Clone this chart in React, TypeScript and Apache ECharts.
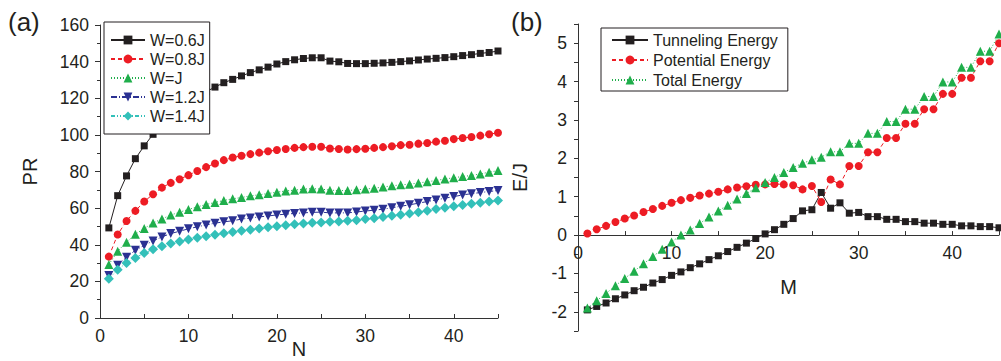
import React, { useEffect, useRef } from 'react';
import * as echarts from 'echarts';

// ---------- Panel (a): participation ratio PR vs N ----------
const N_VALUES = [1, 2, 3, 4, 5, 6, 7, 8, 9, 10, 11, 12, 13, 14, 15, 16, 17, 18, 19, 20, 21, 22, 23, 24, 25, 26, 27, 28, 29, 30, 31, 32, 33, 34, 35, 36, 37, 38, 39, 40, 41, 42, 43, 44, 45];

const PR_W06 = [49.2, 66.8, 77.6, 87, 94, 100.3, 105, 109.5, 113.5, 117, 120.5, 123.6, 126.1, 128.5, 130.3, 132.2, 134, 135.5, 137, 138.7, 140, 141, 141.7, 142.1, 142.1, 140.3, 139.9, 139, 138.9, 138.9, 139.1, 139.3, 139.6, 140, 140.4, 140.9, 141.4, 141.8, 142.2, 142.7, 143.3, 143.8, 144.5, 145, 145.8];
const PR_W08 = [33.5, 45.6, 53, 58.5, 63.6, 67.6, 71.2, 73.8, 75.8, 78, 80.3, 82.4, 84.4, 86.2, 87.6, 88.6, 89.5, 90.3, 91.1, 91.7, 92.3, 92.9, 93.3, 93.5, 93.5, 92.6, 92.3, 92, 92.2, 92.4, 92.9, 93.3, 93.8, 94.4, 94.6, 95.2, 95.6, 96.3, 96.8, 97.7, 98.3, 98.8, 99.6, 100.3, 101.2];
const PR_W10 = [29.2, 36.5, 41.4, 45.8, 48.9, 51.9, 54.1, 56.2, 57.8, 59.3, 60.7, 62, 63.1, 64.2, 65.1, 65.8, 66.7, 67.3, 68, 68.7, 69.4, 69.8, 70.4, 70.6, 70.4, 69.8, 69.6, 69.6, 70, 70.4, 70.9, 71.5, 72.2, 72.7, 73.1, 73.7, 74.4, 75.1, 75.9, 76.6, 77.3, 77.8, 78.7, 79.6, 80.5];
const PR_W12 = [23.2, 28.8, 33.2, 37, 39.7, 42.1, 44.3, 46.1, 47.4, 48.7, 49.8, 50.8, 51.8, 52.5, 53.1, 54, 54.6, 55.2, 55.7, 56.3, 56.7, 57.1, 57.4, 57.7, 57.8, 57.4, 57.4, 57.4, 57.9, 58.4, 58.9, 59.4, 60.2, 61, 61.8, 62.7, 63.6, 64.5, 65.4, 66.3, 67.2, 67.9, 68.5, 69.1, 69.6];
const PR_W14 = [21.4, 26.4, 30.1, 32.8, 35.5, 37.5, 39.2, 40.7, 41.8, 42.9, 43.8, 44.7, 45.4, 46.3, 47, 47.6, 48.2, 48.9, 49.5, 50.1, 50.7, 51.2, 51.6, 52, 52.2, 52.5, 52.7, 53.1, 53.4, 54, 54.5, 55.1, 55.8, 56.4, 57.1, 57.7, 58.6, 59.5, 60.2, 61, 61.7, 62.4, 63, 63.6, 64.1];

const LEGEND_A = ['W=0.6J', 'W=0.8J', 'W=J', 'W=1.2J', 'W=1.4J'];

// ---------- Panel (b): energies E/J vs M ----------
const M_VALUES = [1, 2, 3, 4, 5, 6, 7, 8, 9, 10, 11, 12, 13, 14, 15, 16, 17, 18, 19, 20, 21, 22, 23, 24, 25, 26, 27, 28, 29, 30, 31, 32, 33, 34, 35, 36, 37, 38, 39, 40, 41, 42, 43, 44, 45];

const E_TUNNELING = [-1.95, -1.86, -1.77, -1.66, -1.56, -1.45, -1.36, -1.25, -1.16, -1.05, -0.96, -0.85, -0.75, -0.64, -0.54, -0.43, -0.32, -0.21, -0.09, 0.03, 0.14, 0.28, 0.43, 0.63, 0.66, 1.11, 0.7, 0.84, 0.57, 0.59, 0.48, 0.48, 0.41, 0.41, 0.35, 0.35, 0.31, 0.31, 0.28, 0.28, 0.24, 0.24, 0.22, 0.22, 0.19];
const E_POTENTIAL = [0.04, 0.15, 0.24, 0.34, 0.43, 0.51, 0.6, 0.68, 0.76, 0.84, 0.91, 0.97, 1.03, 1.08, 1.13, 1.19, 1.24, 1.27, 1.31, 1.32, 1.33, 1.32, 1.3, 1.19, 1.28, 0.86, 1.45, 1.32, 1.8, 1.8, 2.16, 2.16, 2.53, 2.53, 2.9, 2.9, 3.28, 3.28, 3.68, 3.68, 4.1, 4.1, 4.53, 4.53, 5.0];
const E_TOTAL = [-1.9, -1.71, -1.52, -1.32, -1.13, -0.94, -0.75, -0.56, -0.37, -0.18, 0.0, 0.13, 0.3, 0.47, 0.63, 0.78, 0.94, 1.08, 1.23, 1.37, 1.5, 1.63, 1.76, 1.87, 1.96, 2.03, 2.17, 2.17, 2.39, 2.39, 2.65, 2.65, 2.96, 2.96, 3.28, 3.28, 3.61, 3.61, 3.99, 3.99, 4.37, 4.37, 4.79, 4.79, 5.24];

const LEGEND_B = ['Tunneling Energy', 'Potential Energy', 'Total Energy'];

// Axis extents of panel (b)
const E_MIN = -2.5;
const E_MAX = 5.5;

const FONT = '"Liberation Sans", Arial, Helvetica, sans-serif';
const INK = '#231f20';
const AXIS = '#333333';

const C_BLACK = '#231f20';
const C_RED = '#ed1c24';
const C_GREEN = '#1fae4b';
const C_BLUE = '#2b3192';
const C_CYAN = '#33c0b9';

const GRID_B = { left: 578, top: 24, width: 421, height: 307 };
// shift the bottom axis of panel (b) up to the E = 0 line
const ZERO_OFFSET_B = -GRID_B.height * (0 - E_MIN) / (E_MAX - E_MIN);

const pairs = (xs: number[], ys: number[]) => xs.map((x, i) => [x, ys[i]]);

const tickLabel = {
  fontSize: 17.5,
  color: INK,
  fontFamily: FONT,
};

const nameStyle = { fontSize: 20, color: INK, fontFamily: FONT };

function lineSeries(
  name: string,
  xi: number,
  data: number[][],
  color: string,
  symbol: string,
  size: number,
  dash: any,
  rotate = 0
) {
  return {
    name,
    type: 'line',
    xAxisIndex: xi,
    yAxisIndex: xi,
    data,
    symbol,
    symbolSize: size,
    symbolRotate: rotate,
    itemStyle: { color },
    lineStyle: { color, width: 1, type: dash },
    emphasis: { disabled: true },
    z: 2,
  };
}

export default function App() {
  const ref = useRef<HTMLDivElement>(null);

  useEffect(() => {
    const chart = echarts.init(ref.current!, null, { renderer: 'svg' });
    const option: any = {
      animation: false,
      backgroundColor: '#ffffff',
      textStyle: { fontFamily: FONT },
      graphic: [
        { type: 'text', left: 8, top: 9, style: { text: '(a)', fontSize: 26, fontFamily: FONT, fill: INK } },
        { type: 'text', left: 511, top: 9, style: { text: '(b)', fontSize: 26, fontFamily: FONT, fill: INK } },
      ],
      grid: [
        { left: 100, top: 25, width: 398, height: 293, containLabel: false, outerBoundsMode: 'none' },
        { ...GRID_B, containLabel: false, outerBoundsMode: 'none' },
      ],
      legend: [
        {
          data: LEGEND_A,
          orient: 'vertical',
          left: 104,
          top: 22,
          padding: [10, 5, 10, 6],
          itemGap: 3,
          itemWidth: 34,
          itemHeight: 11,
          borderColor: INK,
          borderWidth: 1,
          backgroundColor: '#ffffff',
          textStyle: { fontSize: 16, color: INK, fontFamily: FONT },
          selectedMode: false,
        },
        {
          data: LEGEND_B,
          orient: 'vertical',
          left: 601,
          top: 28,
          padding: [4, 10, 3, 10],
          itemGap: 4,
          itemWidth: 36,
          itemHeight: 11,
          borderColor: INK,
          borderWidth: 1,
          backgroundColor: '#ffffff',
          textStyle: { fontSize: 16, color: INK, fontFamily: FONT },
          selectedMode: false,
        },
      ],
      xAxis: [
        {
          type: 'value',
          gridIndex: 0,
          min: 0,
          max: 45,
          interval: 5,
          axisLine: { show: true, onZero: false, lineStyle: { color: AXIS, width: 1 } },
          axisTick: { show: true, inside: true, length: 4, lineStyle: { color: AXIS } },
          axisLabel: {
            ...tickLabel,
            margin: 9,
            formatter: (v: number) => (v % 10 === 0 ? String(v) : ''),
          },
          splitLine: { show: false },
          name: 'N',
          nameLocation: 'middle',
          nameGap: 21,
          nameMoveOverlap: false,
          nameTextStyle: nameStyle,
        },
        {
          type: 'value',
          gridIndex: 1,
          min: 0,
          max: 45,
          interval: 5,
          position: 'bottom',
          offset: ZERO_OFFSET_B,
          axisLine: { show: true, onZero: false, lineStyle: { color: AXIS, width: 1 } },
          axisTick: { show: true, inside: true, length: 4, lineStyle: { color: AXIS } },
          axisLabel: {
            ...tickLabel,
            margin: 9,
            formatter: (v: number) => (v % 10 === 0 ? String(v) : ''),
          },
          splitLine: { show: false },
          name: 'M',
          nameLocation: 'middle',
          nameGap: 42,
          nameMoveOverlap: false,
          nameTextStyle: nameStyle,
        },
      ],
      yAxis: [
        {
          type: 'value',
          gridIndex: 0,
          min: 0,
          max: 160,
          interval: 20,
          axisLine: { show: true, onZero: false, lineStyle: { color: AXIS, width: 1 } },
          axisTick: { show: true, inside: false, length: 5, lineStyle: { color: AXIS } },
          minorTick: { show: true, splitNumber: 2, length: 3, lineStyle: { color: AXIS } },
          axisLabel: { ...tickLabel, margin: 11 },
          splitLine: { show: false },
          minorSplitLine: { show: false },
          name: 'PR',
          nameLocation: 'middle',
          nameGap: 60,
          nameRotate: 90,
          nameMoveOverlap: false,
          nameTextStyle: nameStyle,
        },
        {
          type: 'value',
          gridIndex: 1,
          min: E_MIN,
          max: E_MAX,
          interval: 0.5,
          axisLine: { show: true, onZero: false, lineStyle: { color: AXIS, width: 1 } },
          axisTick: { show: true, inside: false, length: 4, lineStyle: { color: AXIS } },
          axisLabel: {
            ...tickLabel,
            margin: 11,
            formatter: (v: number) => (Number.isInteger(v) ? String(v) : ''),
          },
          splitLine: { show: false },
          name: 'E/J',
          nameLocation: 'middle',
          nameGap: 48,
          nameRotate: 90,
          nameMoveOverlap: false,
          nameTextStyle: nameStyle,
        },
      ],
      series: [
        lineSeries('W=0.6J', 0, pairs(N_VALUES, PR_W06), C_BLACK, 'rect', 7, 'solid'),
        lineSeries('W=0.8J', 0, pairs(N_VALUES, PR_W08), C_RED, 'circle', 8, [4, 3]),
        lineSeries('W=J', 0, pairs(N_VALUES, PR_W10), C_GREEN, 'triangle', 9, [1, 2]),
        lineSeries('W=1.2J', 0, pairs(N_VALUES, PR_W12), C_BLUE, 'triangle', 9, [6, 2, 1, 2], 180),
        lineSeries('W=1.4J', 0, pairs(N_VALUES, PR_W14), C_CYAN, 'diamond', 10, [4, 2, 1, 2, 1, 2]),
        lineSeries('Tunneling Energy', 1, pairs(M_VALUES, E_TUNNELING), C_BLACK, 'rect', 7, 'solid'),
        lineSeries('Potential Energy', 1, pairs(M_VALUES, E_POTENTIAL), C_RED, 'circle', 8, [4, 3]),
        lineSeries('Total Energy', 1, pairs(M_VALUES, E_TOTAL), C_GREEN, 'triangle', 9, [1, 2]),
      ],
    };
    chart.setOption(option);
    return () => chart.dispose();
  }, []);

  return (
    <div
      ref={ref}
      style={{ position: 'absolute', left: 0, top: 0, width: 1001, height: 361, background: '#ffffff' }}
    />
  );
}
